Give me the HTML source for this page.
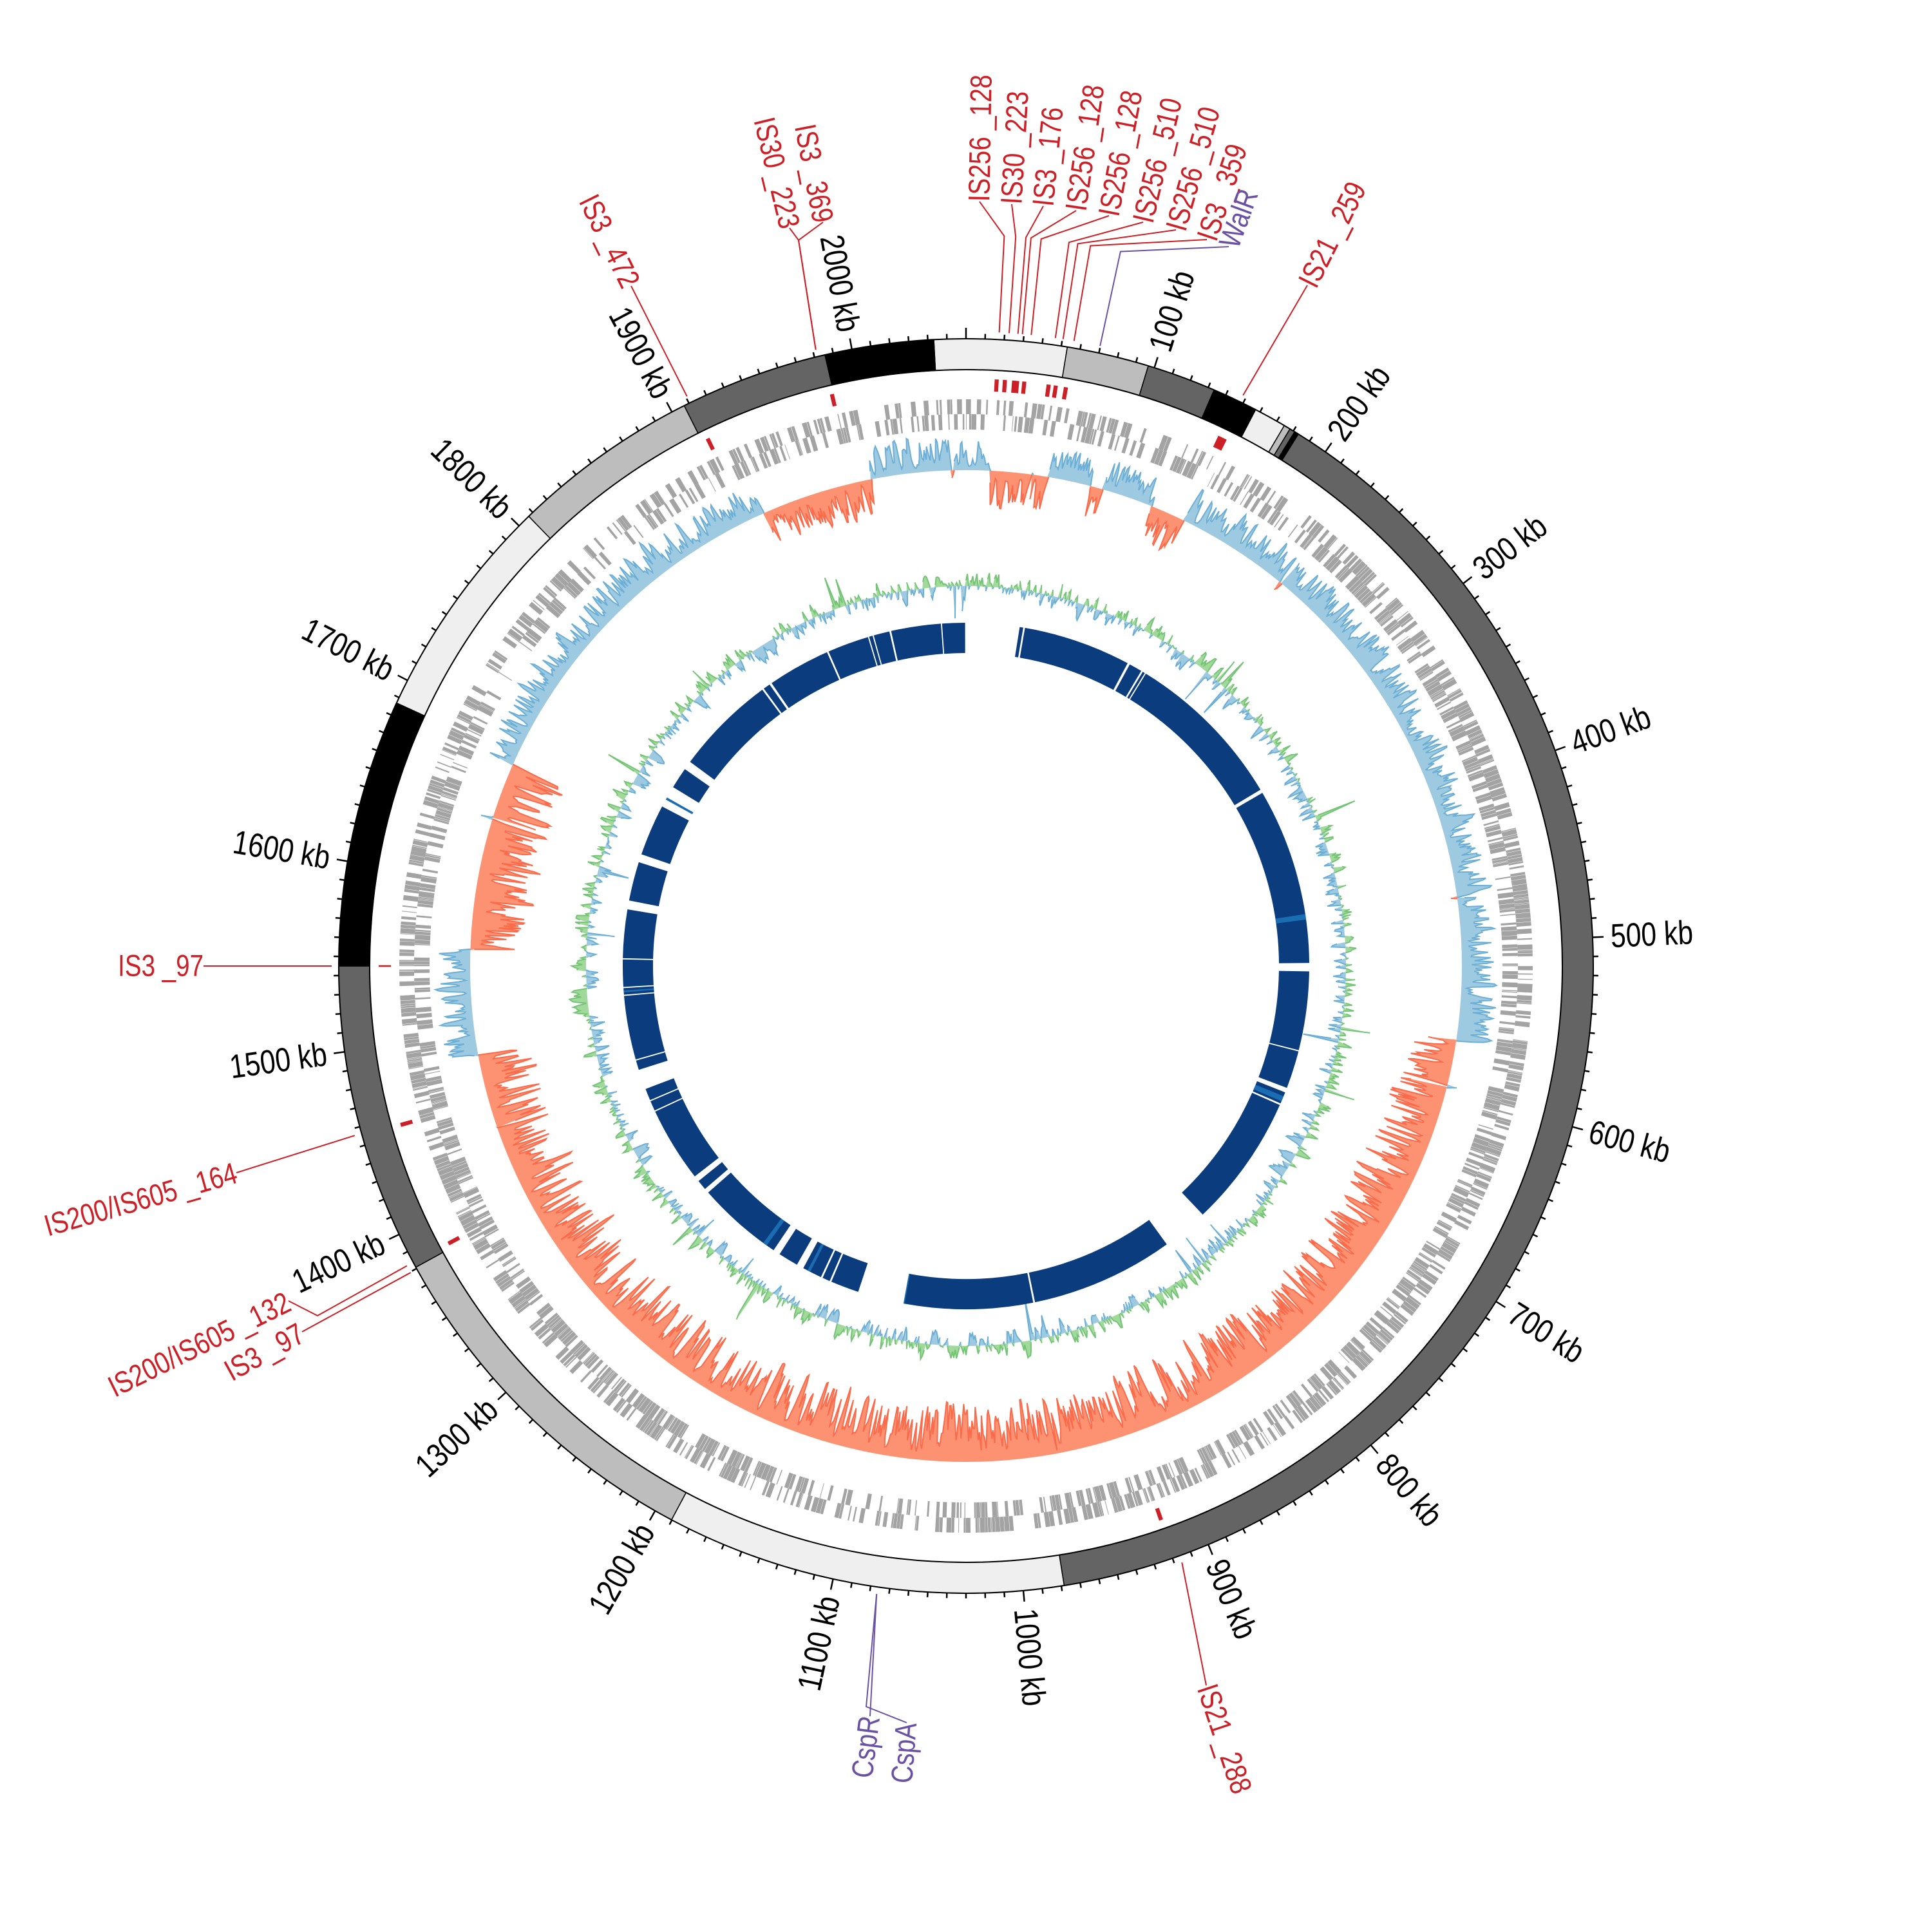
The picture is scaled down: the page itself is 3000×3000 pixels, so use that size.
<!DOCTYPE html>
<html><head><meta charset="utf-8">
<style>
html,body{margin:0;padding:0;background:#fff;}
svg{display:block;}
text{font-family:"Liberation Sans",sans-serif;}
.kb{font-size:52px;fill:#000;}
.is{font-size:47px;fill:#cc1f26;}
.pu{font-size:47px;fill:#6a51a3;}
</style></head>
<body>
<svg id="s" xmlns="http://www.w3.org/2000/svg" width="3000" height="3000" viewBox="0 0 3000 3000">
<rect width="3000" height="3000" fill="#fff"/>
<g id="tracks"></g>
<g id="lines" fill="none" stroke-width="2"></g>
<g id="kbl">
<text class="kb">100 kb</text><text class="kb">200 kb</text><text class="kb">300 kb</text><text class="kb">400 kb</text><text class="kb">500 kb</text><text class="kb">600 kb</text><text class="kb">700 kb</text><text class="kb">800 kb</text><text class="kb">900 kb</text><text class="kb">1000 kb</text><text class="kb">1100 kb</text><text class="kb">1200 kb</text><text class="kb">1300 kb</text><text class="kb">1400 kb</text><text class="kb">1500 kb</text><text class="kb">1600 kb</text><text class="kb">1700 kb</text><text class="kb">1800 kb</text><text class="kb">1900 kb</text><text class="kb">2000 kb</text>
</g>
<g id="isl">
<text class="is">IS256 _128</text>
<text class="is">IS30 _223</text>
<text class="is">IS3 _176</text>
<text class="is">IS256 _128</text>
<text class="is">IS256 _128</text>
<text class="is">IS256 _510</text>
<text class="is">IS256 _510</text>
<text class="is">IS3 _359</text>
<text class="pu">WalR</text>
<text class="is">IS21 _259</text>
<text class="is">IS3 _472</text>
<text class="is">IS30 _223</text>
<text class="is">IS3 _369</text>
<text class="is">IS3 _97</text>
<text class="is">IS200/IS605 _164</text>
<text class="is">IS200/IS605 _132</text>
<text class="is">IS3 _97</text>
<text class="pu">CspR</text>
<text class="pu">CspA</text>
<text class="is">IS21 _288</text>
</g>
</svg>
<script>
(function(){
var NS="http://www.w3.org/2000/svg",C=1500,L=2060;
function pol(r,a){var t=a*Math.PI/180;return [C+r*Math.sin(t),C-r*Math.cos(t)];}
function f(p){return p[0].toFixed(1)+","+p[1].toFixed(1);}
function sec(r1,r2,a1,a2){var lg=(a2-a1)>180?1:0;return "M"+f(pol(r2,a1))+"A"+r2+","+r2+" 0 "+lg+" 1 "+f(pol(r2,a2))+"L"+f(pol(r1,a2))+"A"+r1+","+r1+" 0 "+lg+" 0 "+f(pol(r1,a1))+"Z";}
var seed=12345;function rnd(){seed|=0;seed=seed+0x6D2B79F5|0;var t=Math.imul(seed^seed>>>15,1|seed);t=t+Math.imul(t^t>>>7,61|t)^t;return((t^t>>>14)>>>0)/4294967296;}
var T=document.getElementById("tracks"),LN=document.getElementById("lines");
function el(tag,at,par){var e=document.createElementNS(NS,tag);for(var k in at)e.setAttribute(k,at[k]);(par||T).appendChild(e);return e;}
var segs=[[-2.94,9.3,"#efefef"],[9.3,16.9,"#bdbdbd"],[16.9,23.3,"#646464"],[23.3,27.5,"#000"],[27.5,30.5,"#efefef"],[30.5,31.1,"#bdbdbd"],[31.1,31.6,"#646464"],[31.6,32,"#000"],[32,171,"#646464"],[171,208,"#efefef"],[208,241.3,"#bdbdbd"],[241.3,270,"#646464"],[270,294.8,"#000"],[294.8,315.8,"#efefef"],[315.8,333.3,"#bdbdbd"],[333.3,347,"#646464"],[347,357.06,"#000"]];
segs.forEach(function(s){el("path",{d:sec(926,974,s[0],s[1]),fill:s[2],stroke:"#000","stroke-width":1.5});});
el("circle",{cx:C,cy:C,r:974,fill:"none",stroke:"#000","stroke-width":2});
el("circle",{cx:C,cy:C,r:926,fill:"none",stroke:"#000","stroke-width":2});
var tk="";for(var k=0;k<L;k+=10){var a=k/L*360,len=(k%100==0)?16:7;tk+="M"+f(pol(974,a))+"L"+f(pol(975+len,a));}
el("path",{d:tk,stroke:"#000","stroke-width":2.5,fill:"none"});
var mk=[[3.0],[3.8],[4.7],[5.0],[5.7],[8.1],[8.8],[9.8],[25.9,0.9],[333.9],[346.8],[270,0.15],[254.3],[241.8],[160.6]];
var md="";mk.forEach(function(m){var w=m[1]||0.4;md+=sec(893,912,m[0]-w/2,m[0]+w/2);});
el("path",{d:md,fill:"#cc1f26"});
[[857,880],[833,857]].forEach(function(row,ri){var a=0,d="";while(a<360){var w=0.06+rnd()*0.45;var dense=(a>40&&a<170)||(a>200&&a<290);if(rnd()<(dense?0.72:0.5))d+=sec(row[0],row[1],a,Math.min(a+w,360));a+=w+(rnd()<0.25?rnd()*0.5:0.03);}el("path",{d:d,fill:"#a3a3a3"});});
function skewSign(a){var B=[[349,360.1],[-1,2.8],[9.5,14.5],[16,22],[26,98.6],[259.6,272],[294,336]];for(var i=0;i<B.length;i++)if(a>=B[i][0]&&a<B[i][1])return 1;return -1;}
function skewAmp(a){if(a>98.6&&a<259.6)return 105;if(a>272&&a<294)return 100;if(skewSign(a)<0)return 65;return 60;}
function areaTrack(base,vals,step,posFill,posStroke,negFill,negStroke){
 ["p","n"].forEach(function(w){var d="",ls="",on=false;
  for(var i=0;i<=vals.length;i++){var v=vals[i%vals.length];var vv=w=="p"?Math.max(v,0):Math.min(v,0);var p=pol(base+vv,i*step);d+=(i==0?"M":"L")+f(p);
   if(vv!=0){ls+=(on?"L":"M")+f(pol(base+vv,i*step));on=true;}else{if(on)ls+="L"+f(p);on=false;}}
  d+="Z M"+f(pol(base,0))+"A"+base+","+base+" 0 1 0 "+f(pol(base,180))+"A"+base+","+base+" 0 1 0 "+f(pol(base,359.999))+"Z";
  el("path",{d:d,fill:w=="p"?posFill:negFill,"fill-rule":"nonzero"});
  el("path",{d:ls,fill:"none",stroke:w=="p"?posStroke:negStroke,"stroke-width":2});
 });}
var st=0.15,N=Math.round(360/st),sv=[],burst=0;
for(var i=0;i<N;i++){var a=i*st;var s=Math.pow(rnd(),1.6);if(rnd()<0.08)s=0.8+rnd()*0.2;var v=skewAmp(a)*(0.08+0.92*s)*skewSign(a);
 if(burst>0){v=-skewSign(a)*(8+rnd()*18);burst--;}else if(rnd()<0.006)burst=1+Math.floor(rnd()*2);sv.push(v);}
// light smoothing (keep spiky)
var sv2=sv.map(function(v,i){return 0.7*v+0.15*sv[(i+N-1)%N]+0.15*sv[(i+1)%N];});
areaTrack(770,sv2,st,"#9ecae1","#6baed6","#fc9272","#fb6a4a");
var st2=0.2,N2=1800,gv=[],g=0;
for(var i=0;i<N2;i++){g=0.45*g+(rnd()-0.5)*34;var v=g;if(rnd()<0.02)v+=(rnd()<0.5?-1:1)*(25+rnd()*35);gv.push(v);}
areaTrack(590,gv,st2,"#a1d99b","#74c476","#9ecae1","#6baed6");
var gaps=[[-0.15,9.0],[9.6,9.9],[28.1,28.5],[30.7,31.0],[31.4,31.6],[59.1,59.7],[89.5,90.9],[104.2,104.4],[110.8,111.6],[113.6,113.9],[136.4,144.2],[168.4,168.7],[190.5,198.3],[203.1,203.4],[204.7,205.0],[208.3,209.5],[212.9,214.1],[228.7,229.5],[231.2,232.2],[244.9,245.1],[246.8,247.0],[249,252.4],[254,254.2],[265,265.2],[266.3,266.5],[271.1,271.3],[279.5,281],[287.6,289],[297.7,301.4],[305,306.5],[323.6,323.9],[325.1,325.5],[336.1,336.4],[343.4,343.6],[344.2,344.4],[347.1,347.4],[355.8,356.0]];
var prev=9.0,bd="";gaps.slice(1).forEach(function(gp){if(gp[0]>prev)bd+=sec(486,533,prev,gp[0]);prev=gp[1];});bd+=sec(486,533,prev,359.85);
el("path",{d:bd,fill:"#0b3d7e"});
var lb=[[81.3,82.2],[112.3,113.2],[190.3,190.5],[207,207.5],[215.5,216.2],[299,299.4],[265.6,265.9]];var ld="";lb.forEach(function(b){ld+=sec(486,533,b[0],b[1]);});el("path",{d:ld,fill:"#1a6db3"});
var kbs=document.querySelectorAll("#kbl text");
for(var i=0;i<kbs.length;i++){var t=kbs[i],k=parseInt(t.textContent),a=k/L*360,p=pol(1002,a),rot,anc;if(a<180){rot=a-90;anc="start";}else{rot=a+90;anc="end";}
 t.setAttribute("text-anchor",anc);t.setAttribute("dominant-baseline","central");t.setAttribute("transform","translate("+f(p)+") rotate("+rot.toFixed(2)+") scale(0.82,1)");}
var R="#cc1f26",P="#6a51a3";
var info=[
 [[1521,313],3.0,1,R],[[1571,317],3.9,1,R],[[1620,320],4.7,1,R],[[1671,327],5.1,1,R],[[1722,335],5.9,1,R],[[1775,345],8.1,1,R],[[1826,357],8.8,1,R],[[1874,372],9.8,1,R],[[1908,383],12.2,1,P],
 [[2030,443],25.9,0,R],[[980,444],333.9,0,R],[[1226,354],346.3,[1240,373],R],[[1278,345],346.3,[1240,373],R],
 [[316,1500],270,0,R],[[367,1821],254.5,0,R],[[448,2020],241.8,[493,2043],R],[[469,2068],241.1,0,R],
 [[1351,2665],188.1,0,P],[[1408,2675],188.1,[1351,2665],P],[[1873,2617],160.1,0,R]];
var ts=document.querySelectorAll("#isl text");
for(var i=0;i<ts.length;i++){var t=ts[i],q=info[i],b=q[0];var a=Math.atan2(b[0]-C,-(b[1]-C))*180/Math.PI;if(a<0)a+=360;var rot,anc;if(a<180){rot=a-90;anc="start";}else{rot=a+90;anc="end";}
 t.setAttribute("text-anchor",anc);t.setAttribute("dominant-baseline","central");t.setAttribute("transform","translate("+b[0]+","+b[1]+") rotate("+rot.toFixed(2)+") scale(0.82,1)");
 var p0=pol(985,q[1]),pts;
 if(q[2]===1){pts=[p0,pol(1135,q[1]),b];}else if(q[2]){pts=[p0,q[2],b];}else{pts=[p0,b];}
 if(i==18){pts=[pol(985,q[1]),[1345,2650],b];}
 el("polyline",{points:pts.map(f).join(" "),stroke:q[3],"stroke-width":2,fill:"none"},LN);}
})();
</script>
</body></html>
